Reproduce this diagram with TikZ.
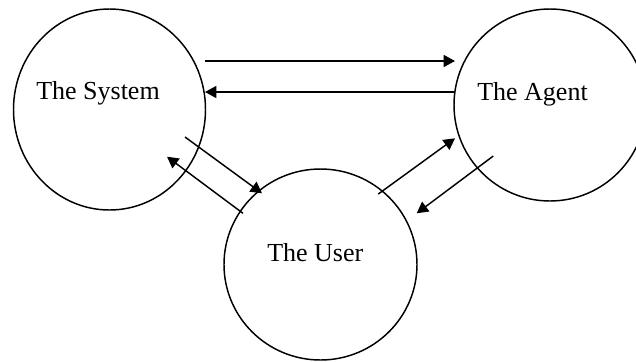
\documentclass[tikz,border=0pt]{standalone}
\usepackage{fontspec}
\setmainfont{Liberation Serif}
\usetikzlibrary{arrows.meta,shapes.geometric}
\begin{document}
\begin{tikzpicture}[x=0.75pt,y=-0.75pt,
  party/.style={draw,ellipse,line width=1.1pt,inner sep=0pt},
  caption/.style={anchor=base west,inner sep=0pt,font=\fontsize{19.5}{22}\selectfont},
  flow/.style={line width=1.1pt,-{Triangle[length=8.5pt,width=9pt]}}]
\useasboundingbox (0,0) rectangle (636,361);
% the three parties
\node[party,minimum width=192*0.75pt,minimum height=201*0.75pt] (sys) at (109.5,109.5) {};
\node[party,minimum width=192*0.75pt,minimum height=192*0.75pt] (agt) at (550,105) {};
\node[party,minimum width=193*0.75pt,minimum height=191*0.75pt] (usr) at (320.5,264.5) {};
\node[caption] (sysname) at (36,99.3) {The System};
\node[caption] (agtname) at (477,100.7) {The Agent};
\node[caption] (usrname) at (267,261) {The User};
% end points of the message arrows
\coordinate (sa1) at (205,61);   \coordinate (as1) at (455,61);
\coordinate (as2) at (455,92);   \coordinate (sa2) at (205,92);
\coordinate (su1) at (185,137);  \coordinate (us1) at (262,193.3);
\coordinate (us2) at (243,213.3);\coordinate (su2) at (167,156.7);
\coordinate (ua1) at (378.3,194);\coordinate (au1) at (455,138.3);
\coordinate (au2) at (493.3,156);\coordinate (ua2) at (416.7,213.3);
\draw[flow] (sa1) -- (as1);
\draw[flow] (as2) -- (sa2);
\draw[flow] (su1) -- (us1);
\draw[flow] (us2) -- (su2);
\draw[flow] (ua1) -- (au1);
\draw[flow] (au2) -- (ua2);
\end{tikzpicture}
\end{document}
